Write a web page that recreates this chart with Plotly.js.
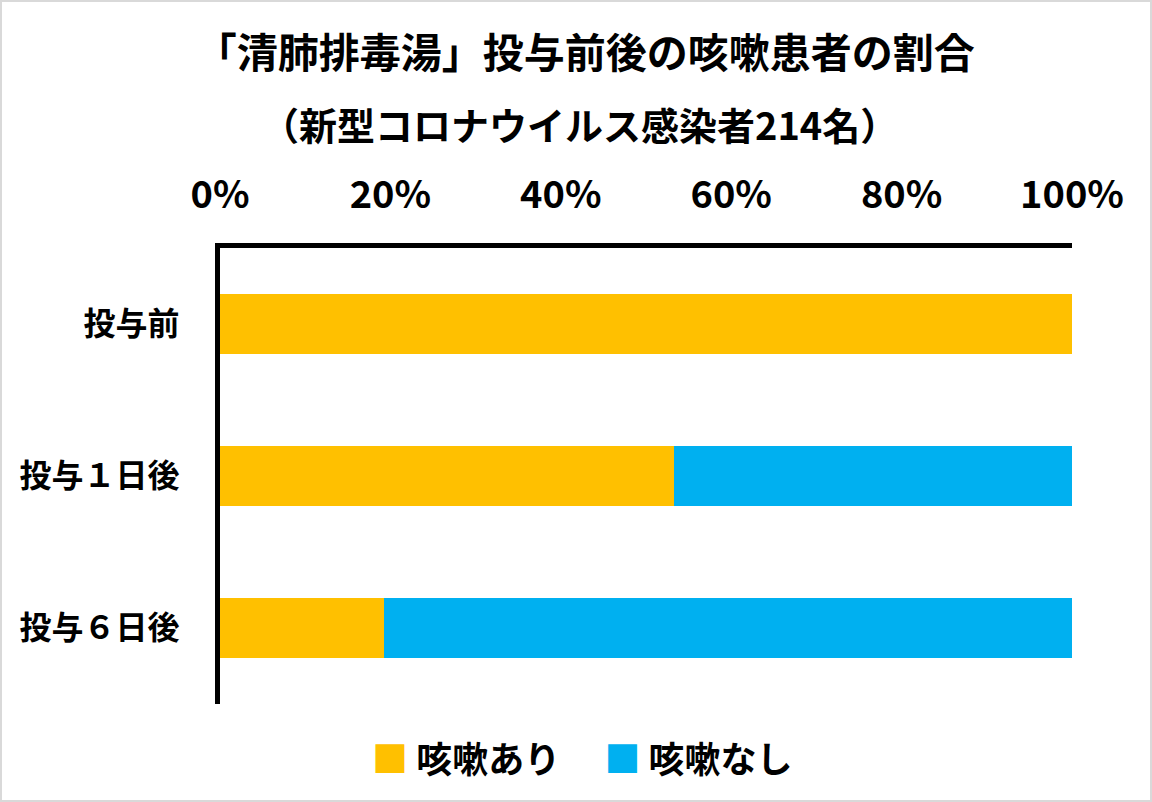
<!DOCTYPE html>
<html><head><meta charset="utf-8">
<script src="https://cdn.plot.ly/plotly-3.0.1.min.js"></script>
<style>
html,body{margin:0;padding:0;background:#fff;}
#wrap{width:1148px;height:798px;border:2px solid #d9d9d9;}
#chart{width:1148px;height:798px;}
</style></head>
<body><div id="wrap"><div id="chart"></div></div>
<script>
const categories = ['投与前', '投与１日後', '投与６日後'];
const coughYes = [100, 53.3, 19.2];
const coughNo = [0, 46.7, 80.8];
const seriesNames = ['咳嗽あり', '咳嗽なし'];
const seriesColors = ['#FFC000', '#00B0F0'];
const tickVals = [0, 20, 40, 60, 80, 100];
const tickText = ['0%', '20%', '40%', '60%', '80%', '100%'];
const titleText = '「清肺排毒湯」投与前後の咳嗽患者の割合';
const subtitleText = '（新型コロナウイルス感染者214名）';

const FONT = '"Noto Sans CJK JP", "Noto Sans", sans-serif';

const traces = [coughYes, coughNo].map((vals, i) => ({
  type: 'bar', orientation: 'h',
  y: categories, x: vals, name: seriesNames[i],
  marker: {color: seriesColors[i], line: {width: 0}},
  showlegend: false, hoverinfo: 'x+y+name'
}));

const legendText = seriesNames.map((n, i) =>
  '<span style="color:' + seriesColors[i] + '">■</span> ' + n).join('　 ');

const layout = {
  width: 1148, height: 798,
  paper_bgcolor: '#fff', plot_bgcolor: '#fff',
  margin: {l: 218, r: 78, t: 246, b: 96},
  barmode: 'stack', bargap: 0.6,
  font: {family: FONT, color: '#000'},
  title: {
    text: '<b>' + titleText + '</b>',
    font: {family: FONT, size: 41, color: '#000'},
    x: 0.508, xref: 'container', xanchor: 'center',
    y: 0.935, yref: 'container', yanchor: 'middle'
  },
  xaxis: {
    side: 'top', range: [0, 100], tickvals: tickVals, ticktext: tickText,
    showgrid: false, zeroline: false, showline: true, linewidth: 5, linecolor: '#000',
    ticks: '', ticklabelstandoff: 20,
    tickfont: {family: FONT, size: 38, color: '#000', weight: 'bold'},
    fixedrange: true
  },
  yaxis: {
    autorange: 'reversed', showgrid: false, zeroline: false,
    showline: true, linewidth: 5, linecolor: '#000', ticks: '',
    ticklabelstandoff: 29,
    tickfont: {family: FONT, size: 32, color: '#000', weight: 'bold'},
    fixedrange: true
  },
  annotations: [{
    text: '<b>' + subtitleText + '</b>', showarrow: false,
    xref: 'paper', yref: 'paper', x: 0.4225, y: 1.272,
    xanchor: 'center', yanchor: 'middle',
    font: {family: FONT, size: 38, color: '#000'}
  }, {
    text: '<b>' + legendText + '</b>', showarrow: false,
    xref: 'paper', yref: 'paper', x: 0.426, y: -0.1165,
    xanchor: 'center', yanchor: 'middle',
    font: {family: FONT, size: 36, color: '#000'}
  }]
};

Plotly.newPlot('chart', traces, layout, {displayModeBar: false, staticPlot: true});
</script></body></html>
